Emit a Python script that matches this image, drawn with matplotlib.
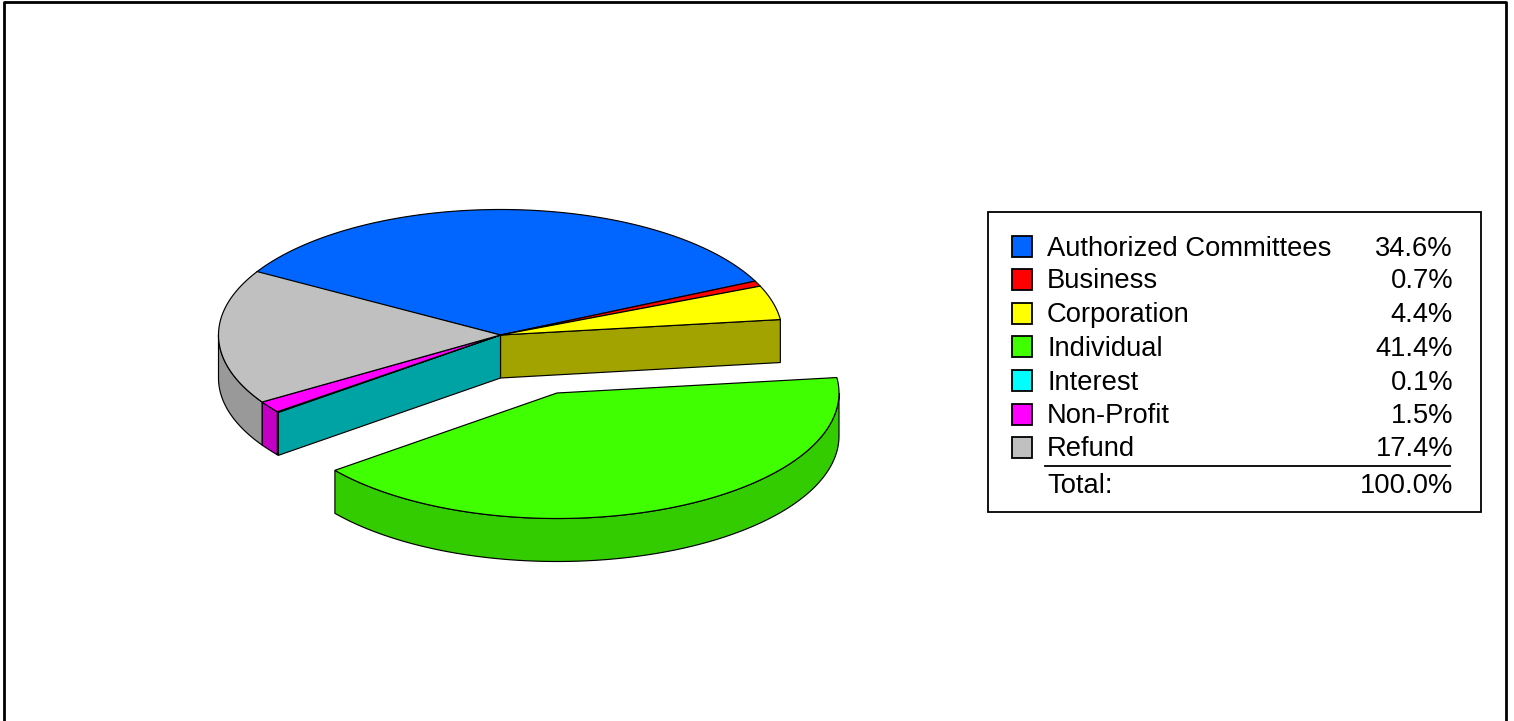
import numpy as np
import matplotlib
matplotlib.use("Agg")
import matplotlib.pyplot as plt
from matplotlib.patches import Polygon, Rectangle

categories = ["Authorized Committees", "Business", "Corporation", "Individual",
              "Interest", "Non-Profit", "Refund"]
shares = [34.6, 0.7, 4.4, 41.4, 0.1, 1.5, 17.4]
total_label = "Total:"
total_value = 100.0

top_colors = ["#0066FF", "#FF0000", "#FFFF00", "#40FF00", "#00FFFF", "#FF00FF", "#C0C0C0"]
side_colors = ["#0047B3", "#B30000", "#A3A300", "#33CC00", "#00A3A3", "#C400C4", "#999999"]

plt.rcParams["font.family"] = ["Liberation Sans", "DejaVu Sans"]

# pie geometry, in pixels of the picture
cx, cy = 500.5, 335
rx, ry = 282, 125.5
depth = 43
start_angle = 150.0
explode = (56.5, 58)
exploded = "Individual"
edge_lw = 0.85


def arc(a0, a1, ox=0, oy=0, n=120):
    t = np.radians(np.linspace(a0, a1, n))
    return np.column_stack([cx + ox + rx * np.cos(t), cy + oy - ry * np.sin(t)])


def wall(p0, p1, color, z):
    # flat wall hanging below the edge p0-p1
    pts = [p0, p1, (p1[0], p1[1] + depth), (p0[0], p0[1] + depth)]
    ax.add_patch(Polygon(pts, closed=True, fc=color, ec="black", lw=edge_lw, zorder=z))


def rim(a0, a1, color, ox=0, oy=0, z=2):
    # curved outer side, only the part facing the viewer
    lo, hi = max(a0, -180), min(a1, 0)
    if a1 <= -180 or a0 >= 0 or lo >= hi:
        return
    e = arc(lo, hi, ox, oy)
    pts = np.vstack([e, (e + [0, depth])[::-1]])
    ax.add_patch(Polygon(pts, closed=True, fc=color, ec="black", lw=edge_lw, zorder=z))


fig = plt.figure(figsize=(15.14, 7.21), dpi=100)
ax = fig.add_axes([0, 0, 1, 1])
ax.set_xlim(0, 1514)
ax.set_ylim(721, 0)
ax.axis("off")

# outer frame, it has no bottom edge in the reference
ax.plot([3.5, 3.5, 1506, 1506], [725, 2, 2, 725], color="black", lw=2, zorder=1)

edges = start_angle - np.cumsum([0] + shares) * 3.6
idx = categories.index(exploded)

# sides of the pie that stays in place
for i in range(len(categories)):
    if i != idx:
        rim(edges[i + 1], edges[i], side_colors[i])

# faces opened up by pulling the slice out
centre = (cx, cy)
wall(centre, arc(edges[idx], edges[idx])[0], side_colors[idx - 1], 3)
wall(centre, arc(edges[idx + 1], edges[idx + 1])[0], side_colors[idx + 1], 3)

# top faces
for i in range(len(categories)):
    if i == idx:
        continue
    pts = np.vstack([[centre], arc(edges[i + 1], edges[i])])
    ax.add_patch(Polygon(pts, closed=True, fc=top_colors[i], ec="black", lw=edge_lw, zorder=4))

# the exploded slice
ox, oy = explode
rim(edges[idx + 1], edges[idx], side_colors[idx], ox, oy, z=5)
pts = np.vstack([[(cx + ox, cy + oy)], arc(edges[idx + 1], edges[idx], ox, oy)])
ax.add_patch(Polygon(pts, closed=True, fc=top_colors[idx], ec="black", lw=edge_lw, zorder=6))

# legend
ax.add_patch(Rectangle((988, 212), 493, 300, fc="white", ec="black", lw=1.3, zorder=7))
row_y = [246, 279, 313, 346, 380, 414, 447]
base_y = [256, 288.5, 322, 356, 390, 423, 456]
for name, share, color, y, b in zip(categories, shares, top_colors, row_y, base_y):
    ax.add_patch(Rectangle((1012, y - 10.5), 20, 21, fc=color, ec="black", lw=1.3, zorder=8))
    ax.text(1047, b, name, fontsize=19.7, va="baseline", ha="left", zorder=8)
    ax.text(1453, b, f"{share:.1f}%", fontsize=19.7, va="baseline", ha="right", zorder=8)
ax.plot([1045, 1450], [465.5, 465.5], color="black", lw=1.3, zorder=8)
ax.text(1047, 493, total_label, fontsize=19.7, va="baseline", ha="left", zorder=8)
ax.text(1453, 493, f"{total_value:.1f}%", fontsize=19.7, va="baseline", ha="right", zorder=8)

fig.savefig("out.png", dpi=100, facecolor="white")
